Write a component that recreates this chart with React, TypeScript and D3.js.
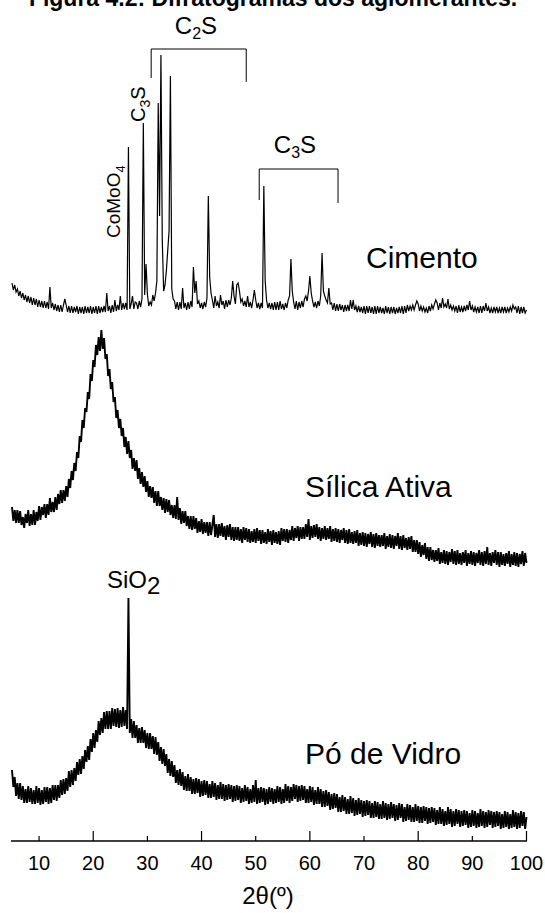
import * as d3 from 'd3';

// 2θ grid: 5° to 100° every 0.25°
const startAngle = 5;
const angleStep = 0.25;

// intensities (arbitrary units, already offset for stacking)
const cimento = [
  558, 551, 556, 549, 552, 545, 550, 543, 548, 541, 546, 539, 545, 538, 544, 536,
  543, 536, 542, 534, 541, 534, 540, 533, 540, 533, 539, 532, 554, 533, 538, 531,
  537, 530, 536, 529, 536, 529, 536, 542, 536, 529, 535, 528, 535, 528, 534, 529,
  535, 527, 534, 528, 534, 527, 535, 528, 534, 528, 535, 527, 534, 528, 535, 527,
  535, 528, 534, 529, 535, 529, 548, 530, 535, 528, 536, 529, 541, 530, 536, 531,
  545, 531, 538, 532, 538, 531, 694, 532, 537, 545, 532, 539, 538, 532, 540, 534,
  542, 718, 546, 577, 547, 535, 539, 536, 546, 540, 548, 560, 738, 625, 786, 600,
  550, 556, 570, 590, 610, 765, 552, 542, 540, 532, 539, 531, 539, 532, 553, 533,
  538, 531, 539, 532, 540, 534, 574, 548, 560, 537, 540, 533, 538, 532, 539, 534,
  543, 645, 564, 548, 541, 533, 545, 535, 539, 533, 546, 536, 540, 532, 541, 534,
  541, 536, 543, 560, 545, 537, 556, 558, 550, 539, 542, 535, 540, 534, 545, 534,
  539, 533, 541, 551, 541, 533, 538, 532, 538, 533, 655, 560, 541, 533, 538, 532,
  538, 531, 539, 531, 539, 531, 540, 532, 537, 531, 538, 533, 541, 545, 582, 550,
  539, 532, 540, 531, 539, 533, 540, 534, 542, 545, 540, 550, 565, 548, 540, 534,
  539, 533, 540, 535, 545, 588, 550, 545, 541, 538, 553, 537, 538, 531, 538, 530,
  537, 530, 537, 531, 536, 529, 536, 530, 536, 530, 541, 532, 541, 531, 535, 529,
  535, 529, 534, 528, 535, 527, 535, 528, 535, 528, 534, 527, 535, 527, 535, 528,
  534, 528, 533, 527, 535, 528, 534, 527, 534, 528, 534, 527, 533, 528, 534, 528,
  535, 527, 535, 528, 536, 530, 535, 531, 536, 531, 536, 540, 537, 530, 535, 530,
  534, 529, 533, 528, 535, 530, 536, 532, 537, 541, 538, 531, 538, 533, 543, 534,
  537, 533, 542, 532, 536, 531, 535, 530, 535, 528, 536, 529, 534, 529, 535, 530,
  536, 531, 540, 531, 535, 529, 534, 529, 534, 528, 535, 528, 535, 530, 538, 530,
  534, 528, 533, 528, 534, 529, 534, 528, 533, 528, 534, 529, 534, 528, 533, 529,
  534, 530, 536, 532, 534, 528, 535, 527, 534, 528, 534, 528, 531,
];

const silicaAtiva = [
  334, 320, 331, 318, 331, 318, 330, 316, 324, 313, 327, 318, 331, 315, 327, 316,
  331, 316, 329, 320, 335, 321, 334, 326, 337, 323, 337, 326, 343, 329, 339, 329,
  344, 331, 347, 337, 351, 338, 351, 340, 355, 344, 362, 353, 370, 361, 378, 370,
  389, 383, 405, 399, 421, 413, 433, 429, 449, 442, 467, 460, 481, 474, 496, 486,
  504, 490, 511, 492, 503, 482, 487, 465, 472, 452, 459, 439, 444, 423, 431, 413,
  422, 405, 413, 394, 404, 387, 400, 383, 391, 372, 383, 370, 381, 362, 373, 357,
  369, 354, 365, 349, 360, 344, 355, 343, 354, 338, 350, 335, 350, 335, 344, 331,
  343, 328, 342, 329, 341, 326, 336, 323, 336, 322, 344, 321, 333, 317, 330, 318,
  330, 315, 325, 312, 325, 311, 325, 312, 323, 308, 320, 309, 322, 307, 319, 308,
  319, 305, 319, 306, 316, 326, 304, 317, 303, 317, 305, 318, 304, 315, 301, 316,
  304, 317, 301, 314, 300, 314, 301, 314, 300, 312, 298, 314, 301, 313, 299, 312,
  298, 310, 299, 312, 298, 313, 300, 311, 297, 311, 298, 309, 297, 312, 299, 310,
  296, 311, 298, 309, 297, 310, 296, 313, 300, 312, 299, 312, 298, 311, 301, 315,
  300, 313, 303, 315, 300, 314, 302, 314, 302, 317, 304, 322, 301, 315, 303, 316,
  304, 317, 302, 314, 300, 313, 302, 315, 301, 313, 302, 315, 299, 312, 300, 313,
  299, 312, 298, 311, 301, 313, 298, 311, 297, 312, 298, 309, 297, 310, 298, 311,
  295, 308, 296, 309, 295, 308, 294, 307, 297, 309, 294, 307, 293, 308, 295, 306,
  294, 306, 295, 308, 292, 305, 294, 307, 293, 306, 292, 305, 295, 308, 292, 305,
  291, 306, 293, 303, 291, 304, 292, 305, 289, 301, 289, 301, 287, 299, 284, 296,
  286, 298, 282, 294, 280, 294, 281, 291, 279, 291, 280, 293, 277, 289, 278, 291,
  277, 290, 276, 289, 279, 292, 277, 290, 276, 291, 277, 288, 276, 289, 278, 291,
  275, 288, 277, 290, 276, 289, 275, 288, 278, 291, 276, 289, 275, 290, 277, 294,
  276, 288, 275, 289, 278, 291, 276, 289, 274, 289, 276, 287, 275, 288, 277, 290,
  274, 287, 276, 289, 275, 288, 274, 287, 277, 290, 275, 288, 278,
];

const poDeVidro = [
  71, 54, 64, 45, 58, 42, 58, 41, 55, 38, 52, 38, 55, 39, 53, 37,
  51, 37, 55, 38, 53, 36, 51, 37, 54, 39, 54, 37, 53, 38, 56, 41,
  56, 40, 56, 43, 61, 46, 62, 47, 63, 50, 70, 54, 71, 56, 73, 60,
  79, 66, 82, 67, 85, 72, 91, 79, 95, 81, 102, 89, 108, 93, 111, 99,
  120, 106, 123, 108, 129, 112, 130, 112, 130, 112, 133, 115, 132, 114, 133, 113,
  131, 114, 134, 115, 131, 112, 243, 108, 122, 103, 120, 103, 116, 98, 113, 98,
  114, 98, 111, 93, 108, 92, 108, 92, 105, 87, 104, 86, 99, 80, 94, 77,
  92, 75, 87, 68, 82, 65, 80, 64, 76, 58, 71, 56, 72, 55, 69, 51,
  65, 50, 67, 50, 64, 47, 62, 47, 63, 48, 62, 44, 60, 45, 61, 46,
  60, 43, 57, 43, 60, 44, 58, 41, 56, 42, 59, 42, 57, 40, 56, 41,
  57, 42, 56, 39, 55, 40, 56, 41, 55, 38, 53, 39, 56, 40, 54, 37,
  52, 38, 56, 39, 61, 37, 53, 38, 54, 39, 53, 36, 52, 37, 54, 39,
  53, 37, 52, 38, 55, 39, 54, 37, 52, 38, 57, 40, 55, 38, 54, 40,
  57, 42, 56, 39, 55, 40, 56, 41, 55, 38, 52, 38, 55, 39, 54, 36,
  51, 37, 54, 37, 52, 34, 50, 34, 51, 35, 49, 31, 47, 32, 48, 33,
  47, 29, 44, 29, 46, 30, 44, 27, 42, 27, 45, 28, 43, 25, 41, 26,
  43, 27, 41, 24, 40, 25, 41, 26, 40, 23, 38, 23, 40, 24, 39, 22,
  37, 22, 40, 23, 38, 21, 37, 22, 39, 23, 37, 20, 36, 21, 38, 23,
  37, 19, 34, 20, 37, 21, 36, 19, 34, 19, 37, 20, 35, 18, 34, 18,
  35, 20, 34, 17, 33, 18, 34, 19, 33, 16, 31, 17, 34, 17, 32, 15,
  30, 16, 34, 17, 32, 14, 30, 15, 32, 17, 31, 14, 30, 15, 31, 16,
  30, 13, 28, 14, 31, 15, 30, 13, 28, 14, 32, 15, 30, 13, 29, 14,
  31, 16, 30, 13, 29, 14, 30, 15, 29, 12, 27, 13, 30, 14, 29, 12,
  27, 13, 31, 14, 29, 12, 28, 13, 30, 15, 29, 12, 24,
];

const series = [
  { name: 'Cimento', values: cimento, width: 1.2 },
  { name: 'Sílica Ativa', values: silicaAtiva, width: 1.9 },
  { name: 'Pó de Vidro', values: poDeVidro, width: 1.9 },
];

const tickValues = [10, 20, 30, 40, 50, 60, 70, 80, 90, 100];
const majorTicks = [20, 40, 60, 80, 100];

const W = 545;
const H = 913;
const font = 'Liberation Sans, Arial, Helvetica, sans-serif';

export default function App() {
  const x = d3.scaleLinear().domain([5, 100]).range([12, 526.5]);
  const y = d3.scaleLinear().domain([0, 830]).range([841, 11]);

  const line = d3
    .line<number>()
    .x((_, i) => x(startAngle + i * angleStep))
    .y((d) => y(d));

  const axisY = y(0);

  return (
    <div style={{ position: 'absolute', left: 0, top: 0 }}>
      <svg width={W} height={H} style={{ display: 'block', background: '#fff' }} fontFamily={font}>
        <text x={273} y={6} textAnchor="middle" fontSize={23} fontWeight="bold">
          Figura 4.2: Difratogramas dos aglomerantes.
        </text>

        {series.map((s) => (
          <path
            key={s.name}
            d={line(s.values) ?? ''}
            fill="none"
            stroke="#000"
            strokeWidth={s.width}
            strokeLinejoin="miter"
          />
        ))}

        {/* brackets */}
        <path
          d={`M${x(30.7)},${y(763)}V${y(792)}H${x(48.25)}V${y(759)}`}
          fill="none"
          stroke="#000"
          strokeWidth={1}
        />
        <path
          d={`M${x(50.65)},${y(641)}V${y(672)}H${x(65.2)}V${y(638)}`}
          fill="none"
          stroke="#000"
          strokeWidth={1}
        />

        <text x={196} y={34} textAnchor="middle" fontSize={24}>
          C<tspan dy={5} fontSize={16}>2</tspan>
          <tspan dy={-5}>S</tspan>
        </text>
        <text x={295} y={153} textAnchor="middle" fontSize={24}>
          C<tspan dy={5} fontSize={16}>3</tspan>
          <tspan dy={-5}>S</tspan>
        </text>
        <text transform="translate(120,238) rotate(-90)" fontSize={19}>
          CoMoO<tspan dy={5} fontSize={13}>4</tspan>
        </text>
        <text transform="translate(145,122) rotate(-90)" fontSize={20}>
          C<tspan dy={5} fontSize={14}>3</tspan>
          <tspan dy={-5}>S</tspan>
        </text>
        <text x={107} y={588} fontSize={24}>
          SiO<tspan dy={6}>2</tspan>
        </text>

        <text x={366} y={268} fontSize={30}>Cimento</text>
        <text x={305} y={497} fontSize={30}>Sílica Ativa</text>
        <text x={305} y={764} fontSize={30}>Pó de Vidro</text>

        {/* x axis */}
        <line x1={x(5) - 1} x2={x(100) + 0.5} y1={axisY} y2={axisY} stroke="#000" strokeWidth={1.5} />
        {tickValues.map((t) => (
          <g key={t}>
            <line
              x1={x(t)}
              x2={x(t)}
              y1={axisY}
              y2={axisY - (majorTicks.includes(t) ? 10 : 5)}
              stroke="#000"
              strokeWidth={1.2}
            />
            <text x={x(t)} y={axisY + 29} textAnchor="middle" fontSize={20}>
              {t}
            </text>
          </g>
        ))}
        <text x={268} y={904} textAnchor="middle" fontSize={24}>
          2θ(º)
        </text>
      </svg>
    </div>
  );
}
